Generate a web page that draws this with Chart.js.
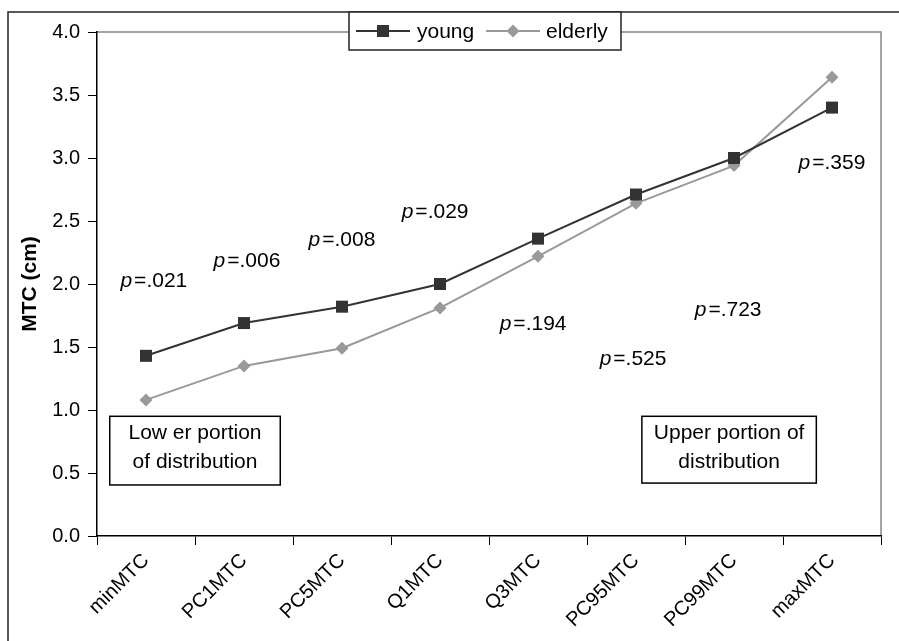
<!DOCTYPE html>
<html>
<head>
    <title>MTC young vs elderly</title>
    <script src="https://cdn.jsdelivr.net/npm/chart.js"></script>
    <style>
        html, body { margin: 0; padding: 0; background: #fff; }
        #wrap { width: 899px; height: 641px; }
    </style>
</head>
<body>
<div id="wrap"><canvas id="myChart" width="899" height="641"></canvas></div>

<script>
    var categories = ['minMTC', 'PC1MTC', 'PC5MTC', 'Q1MTC', 'Q3MTC', 'PC95MTC', 'PC99MTC', 'maxMTC'];
    var young = [1.43, 1.69, 1.82, 2.00, 2.36, 2.71, 3.00, 3.40];
    var elderly = [1.08, 1.35, 1.49, 1.81, 2.22, 2.64, 2.94, 3.64];
    var yTicks = [0, 0.5, 1, 1.5, 2, 2.5, 3, 3.5, 4];

    // p-value labels, placed in data units (category index offset, MTC value)
    var pValues = ['.021', '.006', '.008', '.029', '.194', '.525', '.723', '.359'];
    var pLabelY = [2.02, 2.18, 2.35, 2.57, 1.68, 1.40, 1.79, 2.96];
    var pLabelDx = [0.08, 0.03, 0, -0.05, -0.05, -0.03, -0.06, 0];

    var FONT = '"Liberation Sans", Arial, sans-serif';

    var extras = {
        id: 'extras',
        beforeDraw(chart) {
            var ctx = chart.ctx;
            var a = chart.chartArea;
            ctx.save();
            ctx.fillStyle = '#fff';
            ctx.fillRect(0, 0, chart.width, chart.height);
            // outer frame (cut off at right/bottom)
            ctx.strokeStyle = '#222';
            ctx.lineWidth = 1.5;
            ctx.beginPath();
            ctx.moveTo(8, chart.height);
            ctx.lineTo(8, 12);
            ctx.lineTo(chart.width, 12);
            ctx.stroke();
            // grey plot frame top / right
            ctx.strokeStyle = '#888';
            ctx.lineWidth = 1.5;
            ctx.beginPath();
            ctx.moveTo(a.left, a.top);
            ctx.lineTo(a.right, a.top);
            ctx.lineTo(a.right, a.bottom);
            ctx.stroke();
            ctx.restore();
        },
        afterDraw(chart) {
            var ctx = chart.ctx;
            var xs = chart.scales.x, ys = chart.scales.y;
            ctx.save();
            ctx.fillStyle = '#000';
            ctx.textBaseline = 'middle';
            // p-values
            pValues.forEach(function (v, i) {
                var cx = xs.getPixelForValue(i + pLabelDx[i]);
                var cy = ys.getPixelForValue(pLabelY[i]);
                ctx.font = 'italic 21px ' + FONT;
                var w1 = ctx.measureText('p').width;
                ctx.font = '21px ' + FONT;
                var rest = '=' + v;
                var w2 = ctx.measureText(rest).width;
                var gap = 2;
                var x0 = cx - (w1 + gap + w2) / 2;
                ctx.textAlign = 'left';
                ctx.font = 'italic 21px ' + FONT;
                ctx.fillText('p', x0, cy);
                ctx.font = '21px ' + FONT;
                ctx.fillText(rest, x0 + w1 + gap, cy);
            });

            // text boxes
            function box(x0, x1, y0, y1, lines) {
                var l = xs.getPixelForValue(x0), r = xs.getPixelForValue(x1);
                var t = ys.getPixelForValue(y0), b = ys.getPixelForValue(y1);
                ctx.fillStyle = '#fff';
                ctx.fillRect(l, t, r - l, b - t);
                ctx.strokeStyle = '#000';
                ctx.lineWidth = 1.5;
                ctx.strokeRect(l, t, r - l, b - t);
                ctx.fillStyle = '#000';
                ctx.font = '21px ' + FONT;
                ctx.textAlign = 'center';
                var cx = (l + r) / 2;
                ctx.fillText(lines[0], cx, t + 17);
                ctx.fillText(lines[1], cx, t + 46);
            }
            box(-0.37, 1.37, 0.95, 0.405, ['Low er portion', 'of distribution']);
            box(5.06, 6.84, 0.95, 0.42, ['Upper portion of', 'distribution']);

            // legend
            var lx = 349, ly = 12, lw = 272, lh = 38, my = ly + lh / 2;
            ctx.fillStyle = '#fff';
            ctx.fillRect(lx, ly, lw, lh);
            ctx.strokeStyle = '#222';
            ctx.lineWidth = 1.5;
            ctx.strokeRect(lx, ly, lw, lh);

            ctx.strokeStyle = '#333';
            ctx.lineWidth = 2;
            ctx.beginPath(); ctx.moveTo(356, my); ctx.lineTo(410, my); ctx.stroke();
            ctx.fillStyle = '#333';
            ctx.fillRect(383 - 6, my - 6, 12, 12);

            ctx.strokeStyle = '#999';
            ctx.beginPath(); ctx.moveTo(486, my); ctx.lineTo(540, my); ctx.stroke();
            ctx.fillStyle = '#999';
            ctx.beginPath();
            ctx.moveTo(513, my - 6.5); ctx.lineTo(519.5, my);
            ctx.lineTo(513, my + 6.5); ctx.lineTo(506.5, my);
            ctx.closePath(); ctx.fill();

            ctx.fillStyle = '#000';
            ctx.font = '21px ' + FONT;
            ctx.textAlign = 'left';
            ctx.fillText('young', 417, my + 1);
            ctx.fillText('elderly', 546, my + 1);
            ctx.restore();
        }
    };

    var ctx = document.getElementById('myChart').getContext('2d');
    var myChart = new Chart(ctx, {
        type: 'line',
        data: {
            labels: categories,
            datasets: [{
                label: 'young',
                data: young,
                borderColor: '#333',
                backgroundColor: '#333',
                borderWidth: 2,
                pointStyle: 'rect',
                pointRadius: 8.5,
                pointBorderWidth: 0,
                tension: 0,
                clip: false
            }, {
                label: 'elderly',
                data: elderly,
                borderColor: '#999',
                backgroundColor: '#999',
                borderWidth: 2,
                pointStyle: 'rectRot',
                pointRadius: 6.5,
                pointBorderWidth: 0,
                tension: 0,
                clip: false
            }]
        },
        options: {
            responsive: false,
            animation: false,
            events: [],
            layout: { padding: { top: 32, right: 18, left: 0, bottom: 0 } },
            plugins: {
                legend: { display: false },
                tooltip: { enabled: false }
            },
            scales: {
                x: {
                    offset: true,
                    afterFit(scale) { scale.height = 641 - 536; },
                    grid: {
                        offset: true,
                        drawOnChartArea: false,
                        drawTicks: true,
                        tickLength: 9,
                        color: '#000',
                        lineWidth: 1
                    },
                    border: { color: '#000', width: 1.5 },
                    ticks: {
                        minRotation: 45,
                        maxRotation: 45,
                        autoSkip: false,
                        padding: 4,
                        color: '#000',
                        font: { family: FONT, size: 20 }
                    }
                },
                y: {
                    min: 0,
                    max: 4,
                    afterFit(scale) { scale.width = 97; },
                    afterBuildTicks(scale) {
                        scale.ticks = yTicks.map(function (v) { return { value: v }; });
                    },
                    grid: {
                        drawOnChartArea: false,
                        drawTicks: true,
                        tickLength: 9,
                        color: '#000',
                        lineWidth: 1
                    },
                    border: { color: '#000', width: 1.5 },
                    ticks: {
                        padding: 8,
                        color: '#000',
                        font: { family: FONT, size: 20 },
                        callback: function (v) { return Number(v).toFixed(1); }
                    },
                    title: {
                        display: true,
                        text: 'MTC (cm)',
                        color: '#000',
                        padding: { top: 18, bottom: 0 },
                        font: { family: FONT, size: 21, weight: 'bold' }
                    }
                }
            }
        },
        plugins: [extras]
    });
</script>

</body>
</html>
